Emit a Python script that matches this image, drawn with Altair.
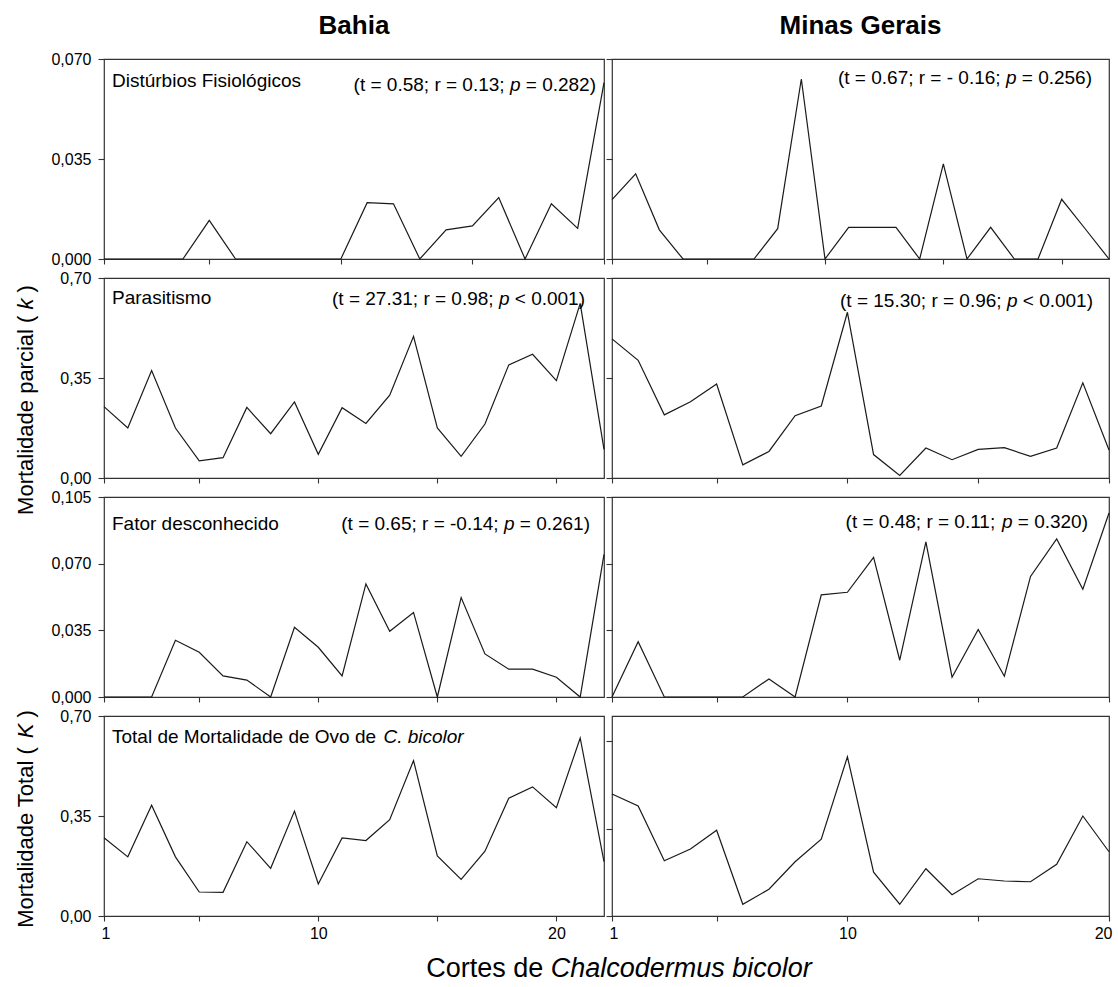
import altair as alt
import pandas as pd

FONT = "Liberation Sans"

# ---------------- data ----------------
x_ticks = [1, 5, 10, 15, 20]
x_labels = [1, 10, 20]

bahia_disturbios = [0, 0, 0, 0, 0.0135, 0, 0, 0, 0, 0, 0.0197, 0.0193, 0, 0.0102,
                    0.0116, 0.0215, 0, 0.0193, 0.0107, 0.0617]
minas_disturbios = [0.0208, 0.0298, 0.0102, 0, 0, 0, 0, 0.0106, 0.0630, 0, 0.0111,
                    0.0111, 0.0111, 0, 0.0333, 0, 0.0111, 0, 0, 0.0209, 0.0105, 0]

bahia_parasitismo = [0.250, 0.175, 0.376, 0.175, 0.060, 0.071, 0.247, 0.155, 0.266,
                     0.083, 0.246, 0.191, 0.290, 0.496, 0.175, 0.076, 0.189, 0.396,
                     0.433, 0.341, 0.611, 0.100]
minas_parasitismo = [0.487, 0.412, 0.221, 0.267, 0.329, 0.046, 0.093, 0.218, 0.252,
                     0.580, 0.082, 0.009, 0.105, 0.064, 0.100, 0.106, 0.076, 0.105,
                     0.333, 0.098]

bahia_desconhecido = [0, 0, 0, 0.0298, 0.0235, 0.0111, 0.0089, 0, 0.0366, 0.0261,
                      0.0111, 0.0594, 0.0345, 0.0444, 0, 0.0522, 0.0226, 0.0146,
                      0.0146, 0.0104, 0, 0.0749]
minas_desconhecido = [0, 0.0290, 0, 0, 0, 0, 0.0095, 0, 0.0536, 0.0550, 0.0733,
                      0.0193, 0.0814, 0.0104, 0.0355, 0.0109, 0.0633, 0.0830,
                      0.0566, 0.0966]

bahia_total = [0.274, 0.207, 0.388, 0.207, 0.084, 0.083, 0.260, 0.167, 0.367, 0.112,
               0.273, 0.264, 0.337, 0.544, 0.210, 0.128, 0.227, 0.412, 0.452, 0.379,
               0.623, 0.190]
minas_total = [0.488, 0.440, 0.221, 0.268, 0.343, 0.047, 0.107, 0.217, 0.307, 0.637,
               0.175, 0.047, 0.189, 0.085, 0.149, 0.140, 0.137, 0.207, 0.400, 0.257]

row_titles = ["Distúrbios Fisiológicos", "Parasitismo", "Fator desconhecido"]
bahia_stats = [("(t = 0.58; r = 0.13; ", " = 0.282)"),
               ("(t = 27.31; r = 0.98; ", " < 0.001)"),
               ("(t = 0.65; r = -0.14; ", " = 0.261)")]
minas_stats = [("(t = 0.67; r = - 0.16; ", " = 0.256)"),
               ("(t = 15.30; r = 0.96; ", " < 0.001)"),
               ("(t = 0.48; r = 0.11; ", " = 0.320)")]

y_max = [0.07, 0.70, 0.105, 0.70]
y_max_minas = [0.07, 0.70, 0.105, 0.80]
y_ticks = [[0, 0.035, 0.07], [0, 0.35, 0.70], [0, 0.035, 0.07, 0.105], [0, 0.35, 0.70]]
y_dec = [3, 2, 3, 2]

# ---------------- text helpers (Arial / Liberation Sans advance widths) ----------------
W = {" ": .278, "(": .333, ")": .333, "=": .584, "<": .584, ";": .278, ".": .278,
     ",": .278, "-": .333, "a": .556, "b": .556, "c": .5, "d": .556, "e": .556,
     "g": .556, "h": .556, "i": .222, "k": .5, "l": .222, "m": .833, "n": .556,
     "o": .556, "p": .556, "r": .333, "s": .5, "t": .278, "u": .556, "v": .5,
     "C": .722, "D": .722, "F": .611, "K": .667, "M": .833, "O": .778, "P": .667,
     "T": .611}
for d in "0123456789":
    W[d] = .556


def twidth(s):
    return sum(W.get(ch, .556) for ch in s)


def text_layer(s, x, y, size=19, style="normal", weight="normal", align="left",
               baseline="alphabetic", angle=None):
    kw = dict(font=FONT, fontSize=size, fontStyle=style, fontWeight=weight,
              align=align, baseline=baseline, color="black")
    if angle is not None:
        kw["angle"] = angle
    return alt.Chart(pd.DataFrame({"t": [s]})).mark_text(**kw).encode(
        x=alt.value(x), y=alt.value(y), text="t:N")


def rich(segments, x0, y, size=19, align="left"):
    total = sum(twidth(t) for t, _ in segments) * size
    if align == "right":
        x0 -= total
    elif align == "center":
        x0 -= total / 2
    out, x = [], x0
    for t, st in segments:
        lead = len(t) - len(t.lstrip(" "))
        out.append(text_layer(t.strip(" "), x + lead * W[" "] * size, y, size, st))
        x += twidth(t) * size
    return out


def rich_vertical(segments, x, yc, size=22):
    total = sum(twidth(t) for t, _ in segments) * size
    y, out = yc + total / 2, []
    for t, st in segments:
        lead = len(t) - len(t.lstrip(" "))
        out.append(text_layer(t.strip(" "), x, y - lead * W[" "] * size, size, st,
                              baseline="middle", angle=270))
        y -= twidth(t) * size
    return out


def panel(values, ymax, yt, dec, width, show_y, show_x, extra):
    df = pd.DataFrame({"corte": list(range(1, len(values) + 1)), "k": values})
    xaxis = dict(values=x_ticks, title=None, labels=show_x)
    if show_x:
        xaxis["labelExpr"] = ("indexof(" + str(x_labels) + ", datum.value) >= 0 ? "
                              "datum.label : ''")
    yaxis = dict(values=yt, title=None, labels=show_y)
    if show_y:
        yaxis["labelExpr"] = "replace(format(datum.value, '.%df'), '.', ',')" % dec
    line = alt.Chart(df).mark_line(color="#1a1a1a", strokeWidth=1.2).encode(
        x=alt.X("corte:Q", scale=alt.Scale(domain=[1, len(values)], nice=False, zero=False),
                axis=alt.Axis(**xaxis)),
        y=alt.Y("k:Q", scale=alt.Scale(domain=[0, ymax], nice=False),
                axis=alt.Axis(**yaxis)),
    )
    return alt.layer(line, *extra).properties(width=width, height=200)


BW, MW = 500, 497
bahia_series = [bahia_disturbios, bahia_parasitismo, bahia_desconhecido, bahia_total]
minas_series = [minas_disturbios, minas_parasitismo, minas_desconhecido, minas_total]

bahia_title_y = [28, 26, 33]
bahia_stat_y = [32, 27, 33]
bahia_stat_r = [492, 481, 486]
minas_stat_y = [25, 29, 31]
minas_stat_r = [480, 481, 476]

panels = []
for i in range(4):
    bx, mx = [], []
    if i < 3:
        bx.append(text_layer(row_titles[i], 8, bahia_title_y[i]))
        pre, post = bahia_stats[i]
        bx += rich([(pre, "normal"), ("p", "italic"), (post, "normal")],
                   bahia_stat_r[i], bahia_stat_y[i], align="right")
        pre, post = minas_stats[i]
        mx += rich([(pre, "normal"), ("p", "italic"), (post, "normal")],
                   minas_stat_r[i], minas_stat_y[i], align="right")
    else:
        bx += rich([("Total de Mortalidade de Ovo de ", "normal"), ("C. bicolor", "italic")],
                   8, 27)
        bx += rich_vertical([("Mortalidade Total ( ", "normal"), ("K", "italic"),
                             (" )", "normal")], -78, 103)
        bx += rich([("Cortes de ", "normal"), ("Chalcodermus bicolor", "italic")],
                   515, 261, size=27, align="center")
    if i == 0:
        bx.append(text_layer("Bahia", BW / 2, -25, size=26, weight="bold", align="center"))
        mx.append(text_layer("Minas Gerais", MW / 2, -25, size=26, weight="bold",
                             align="center"))
    if i == 1:
        bx += rich_vertical([("Mortalidade parcial ( ", "normal"), ("k", "italic"),
                             (" )", "normal")], -78, 122)
    panels.append(panel(bahia_series[i], y_max[i], y_ticks[i], y_dec[i], BW, True,
                        i == 3, bx))
    panels.append(panel(minas_series[i], y_max_minas[i], y_ticks[i], y_dec[i], MW, False,
                        i == 3, mx))

chart = alt.concat(*panels, columns=2, spacing={"row": 19, "column": 8},
                   bounds="flush").properties(
    padding={"left": 14, "top": 12, "right": 5, "bottom": 2},
    background="white",
).configure_view(
    stroke="#333333", strokeWidth=1.2
).configure_axis(
    domain=False, grid=False, tickColor="#333333", tickWidth=1.1,
    labelFont=FONT, labelFontSize=16, labelColor="black",
).configure_axisX(
    tickSize=5, labelPadding=4, labelFlushOffset=3
).configure_axisY(
    tickSize=6, labelPadding=7
)

chart.save("out.html", embed_options={"renderer": "svg", "actions": False})
